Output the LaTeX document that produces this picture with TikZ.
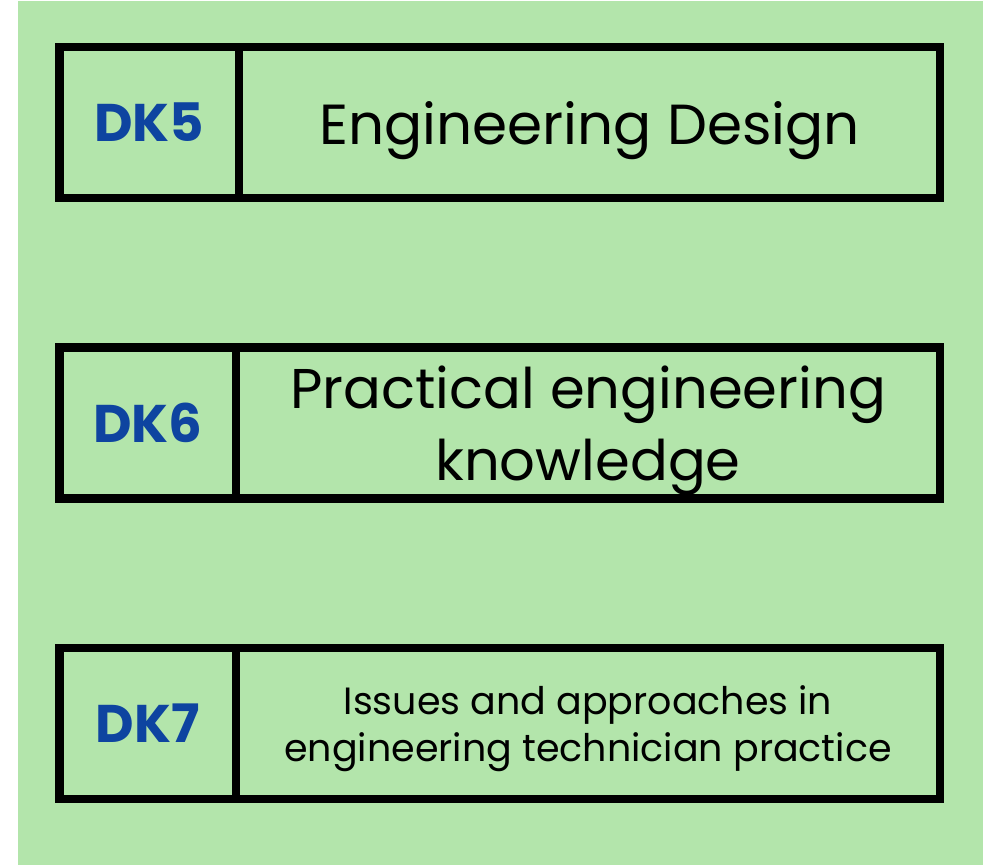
\documentclass[tikz,border=0pt]{standalone}
\usepackage{fontspec}
\setmainfont{Poppins}
\usetikzlibrary{positioning}
\definecolor{panelgreen}{RGB}{179,229,171}
\definecolor{codeblue}{RGB}{14,68,160}

\begin{document}
\begin{tikzpicture}[x=1pt,y=-1pt,
  cell/.style={draw, line width=8.5pt, outer sep=0pt, minimum height=151pt, inner sep=0pt},
  codecell/.style={cell, minimum width=179.5pt, text=codeblue, font=\fontsize{53}{60}\selectfont\bfseries},
  textcell/.style={cell, minimum width=701pt, align=center, text depth=0pt}]
  \useasboundingbox (0,0) rectangle (988,865);
  \fill[panelgreen] (18,1) rectangle (983,865);

  % design knowledge rows
  \node[codecell, anchor=north west] (dk5) at (59.5,47) {DK5};
  \node[textcell, right=0pt of dk5, font=\fontsize{56.5}{70}\selectfont] (dk5txt) {Engineering Design};

  \node[codecell, anchor=north west, minimum width=176.5pt] (dk6) at (59.5,347.5) {DK6};
  \node[textcell, right=0pt of dk6, minimum width=704pt, font=\fontsize{56}{72}\selectfont] (dk6txt) {Practical engineering\\knowledge};

  \node[codecell, anchor=north west, minimum width=176.5pt] (dk7) at (59.5,648) {DK7};
  \node[textcell, right=0pt of dk7, minimum width=704pt, font=\fontsize{38}{47}\selectfont] (dk7txt) {Issues and approaches in\\engineering technician practice};
\end{tikzpicture}
\end{document}
